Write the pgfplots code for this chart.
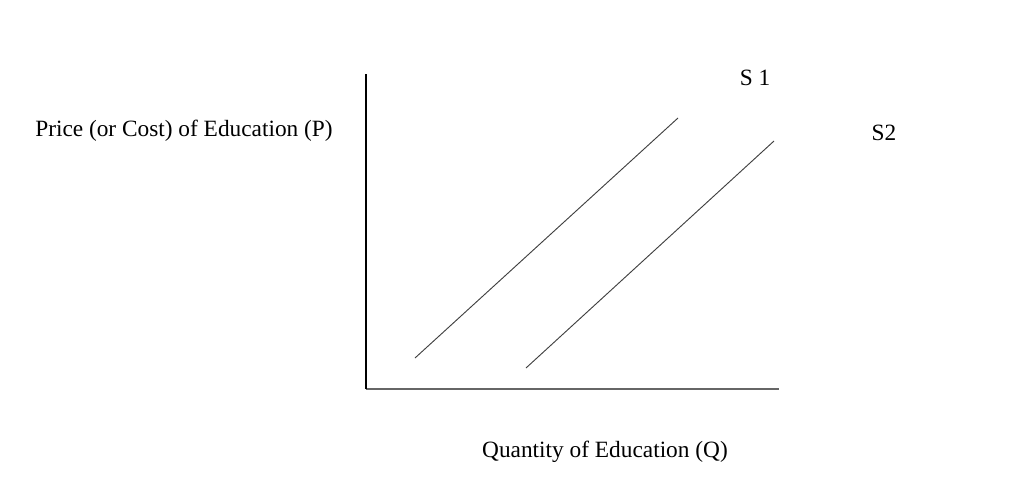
\documentclass[border=0pt]{standalone}
\usepackage{fontspec}
\setmainfont{Liberation Serif}
\usepackage{pgfplots}
\pgfplotsset{compat=1.18}
\begin{document}
\fontsize{17.5pt}{21pt}\selectfont
\begin{tikzpicture}
\begin{axis}[
  x=0.75pt, y=0.75pt,
  xmin=366, xmax=779, ymin=94, ymax=409,
  axis lines=left,
  axis line style={-},
  x axis line style={gray!80!black, line width=1.2pt},
  y axis line style={black, line width=1pt},
  xtick=\empty, ytick=\empty,
  clip=false,
]
\addplot[color=black!75, line width=0.7pt] coordinates {(415,125) (678,365)};
\addplot[color=black!75, line width=0.7pt] coordinates {(526,115) (774,342)};
\node at (axis cs:755,405) {S 1};
\node at (axis cs:884,350) {S2};
\node at (axis cs:184,352) {Price (or Cost) of Education (P)};
\node at (axis cs:605,31) {Quantity of Education (Q)};
\coordinate (bl) at (axis cs:0,0);
\coordinate (tr) at (axis cs:1024,483);
\end{axis}
\pgfresetboundingbox
\path[use as bounding box] (bl) rectangle (tr);
\end{tikzpicture}
\end{document}
